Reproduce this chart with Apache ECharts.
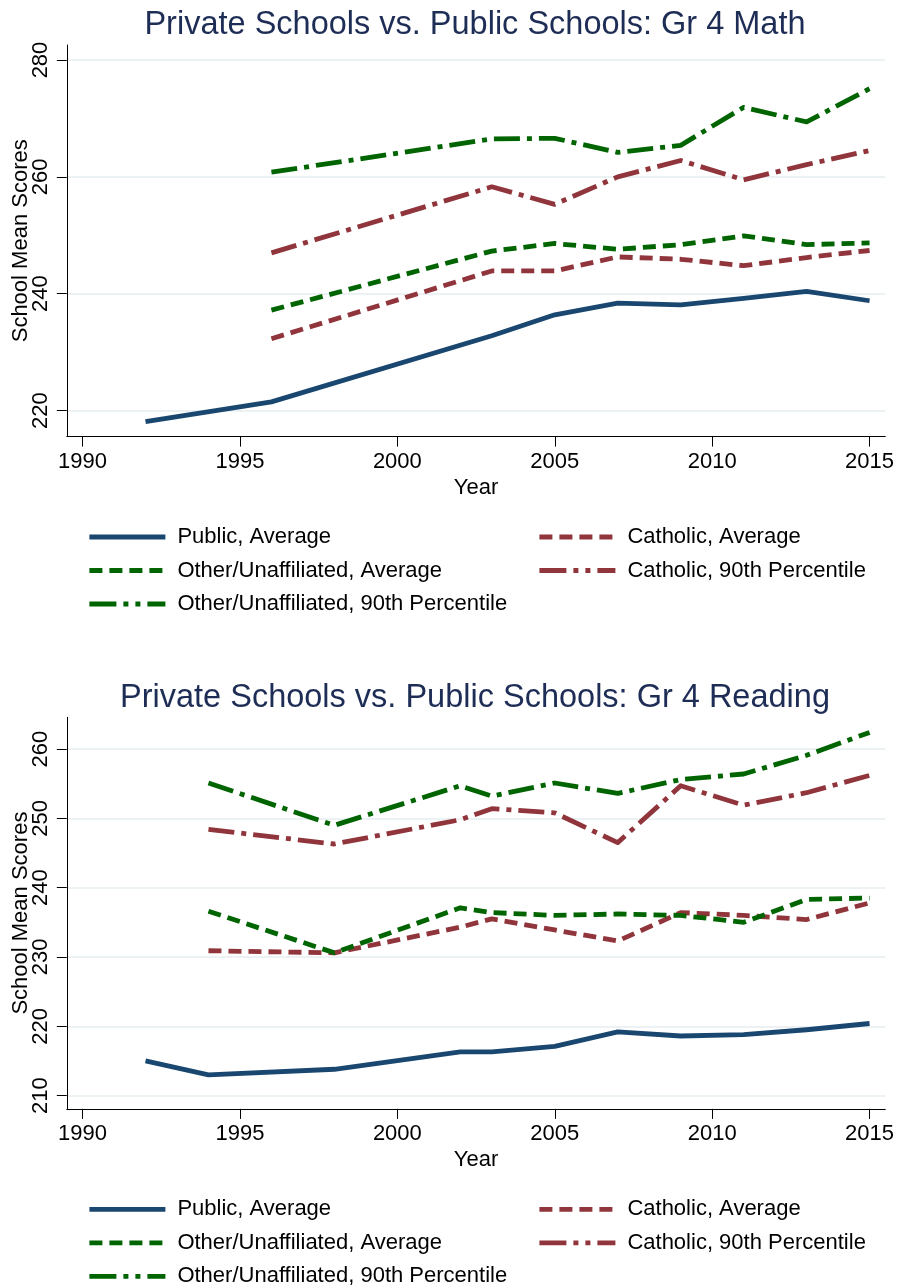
<!DOCTYPE html>
<html>
<head>
<meta charset="utf-8">
<script src="https://cdn.jsdelivr.net/npm/echarts@6/dist/echarts.min.js"></script>
<style>
html,body{margin:0;padding:0;background:#fff;}
#chart{width:899px;height:1287px;}
</style>
</head>
<body>
<div id="chart"></div>
<script>
// ---- Data ----
const seriesNames = ['Public, Average','Catholic, Average','Other/Unaffiliated, Average','Catholic, 90th Percentile','Other/Unaffiliated, 90th Percentile'];
// legend layout: [name, column, row]
const legendLayout = [
  ['Public, Average', 0, 0],
  ['Catholic, Average', 1, 0],
  ['Other/Unaffiliated, Average', 0, 1],
  ['Catholic, 90th Percentile', 1, 1],
  ['Other/Unaffiliated, 90th Percentile', 0, 2]
];

const mathTitle = 'Private Schools vs. Public Schools: Gr 4 Math';
const readTitle = 'Private Schools vs. Public Schools: Gr 4 Reading';

const mathYears = [1992, 1996, 2003, 2005, 2007, 2009, 2011, 2013, 2015];
const mathPublic     = [218.1, 221.5, 232.8, 236.4, 238.4, 238.1, 239.2, 240.4, 238.8];
const mathCatholic   = [null, 232.3, 243.9, 243.9, 246.3, 245.9, 244.8, 246.2, 247.4];
const mathOther      = [null, 237.2, 247.3, 248.6, 247.6, 248.4, 249.9, 248.4, 248.7];
const mathCatholic90 = [null, 247.0, 258.3, 255.3, 260.0, 262.8, 259.5, 262.1, 264.5];
const mathOther90    = [null, 260.8, 266.5, 266.6, 264.2, 265.4, 271.9, 269.4, 275.1];

const readYears = [1992, 1994, 1998, 2002, 2003, 2005, 2007, 2009, 2011, 2013, 2015];
const readPublic     = [215.0, 213.0, 213.8, 216.3, 216.3, 217.1, 219.2, 218.6, 218.8, 219.5, 220.4];
const readCatholic   = [null, 230.9, 230.6, 234.3, 235.5, 233.9, 232.3, 236.4, 236.0, 235.4, 237.8];
const readOther      = [null, 236.6, 230.6, 237.1, 236.4, 236.0, 236.2, 236.0, 235.0, 238.3, 238.5];
const readCatholic90 = [null, 248.4, 246.3, 249.8, 251.4, 250.8, 246.5, 254.7, 251.9, 253.7, 256.2];
const readOther90    = [null, 255.1, 249.0, 254.7, 253.2, 255.1, 253.6, 255.6, 256.4, 259.1, 262.4];

const xTicks = [1990, 1995, 2000, 2005, 2010, 2015];
const mathYTicks = [220, 240, 260, 280];
const readYTicks = [210, 220, 230, 240, 250, 260];

// ---- Styles ----
const FONT = "'Liberation Sans', Arial, Helvetica, sans-serif";
const NAVY = '#1a476f', MAROON = '#90353b', GREEN = '#006400';
const LW = 4.8;
const DASH = [13, 7];
const DASHDOT = [26, 7, 5, 7];
const LEGEND_DASHDOT = [27, 7, 5, 7, 5, 7];
const styles = {
  'Public, Average': {color: NAVY, type: 'solid'},
  'Catholic, Average': {color: MAROON, type: DASH},
  'Other/Unaffiliated, Average': {color: GREEN, type: DASH},
  'Catholic, 90th Percentile': {color: MAROON, type: DASHDOT},
  'Other/Unaffiliated, 90th Percentile': {color: GREEN, type: DASHDOT}
};

function pairs(xs, ys){ return xs.map((x,i)=> ys[i]==null ? null : [x, ys[i]]).filter(p=>p); }

function mkSeries(name, xs, ys, idx){
  const s = styles[name];
  return {
    name, type: 'line', xAxisIndex: idx, yAxisIndex: idx,
    data: pairs(xs, ys), symbol: 'none', showSymbol: false,
    color: s.color,
    lineStyle: {color: s.color, width: LW, type: s.type, cap: 'butt', join: 'round'},
    emphasis: {disabled: true}, animation: false
  };
}

const gridTops = [45, 717.3];
const gridH = 391.6;
const PANEL_OFFSET = 672.3;

function xAxis(idx){
  return {
    type: 'value', gridIndex: idx, min: 1989.5, max: 2015.5,
    axisLine: {show: true, onZero: false, lineStyle: {color: '#000', width: 1}},
    axisTick: {show: true, length: 10, customValues: xTicks, lineStyle: {color: '#000', width: 1}},
    axisLabel: {customValues: xTicks, formatter: v => String(v), fontSize: 22, fontFamily: FONT, color: '#000', margin: 14},
    splitLine: {show: false},
    name: 'Year', nameLocation: 'middle', nameGap: 40, nameMoveOverlap: false,
    nameTextStyle: {fontSize: 22, fontFamily: FONT, color: '#000'}
  };
}
function yAxis(idx, min, max, ticks){
  return {
    type: 'value', gridIndex: idx, min, max,
    axisLine: {show: true, onZero: false, lineStyle: {color: '#000', width: 1}},
    axisTick: {show: true, length: 10, customValues: ticks, lineStyle: {color: '#000', width: 1}},
    axisLabel: {customValues: ticks, formatter: v => String(v), rotate: 90, fontSize: 22, fontFamily: FONT, color: '#000', margin: 15},
    splitLine: {show: true, lineStyle: {color: '#e6eef1', width: 1.5}},
    name: 'School Mean Scores', nameLocation: 'middle', nameGap: 35, nameMoveOverlap: false,
    nameTextStyle: {fontSize: 22, fontFamily: FONT, color: '#000'}
  };
}

function legendItem(name, col, row, panel){
  const isDD = styles[name].type === DASHDOT;
  const ls = {width: LW};
  if (isDD) ls.type = LEGEND_DASHDOT;
  return {
    data: [name], orient: 'vertical',
    left: col === 0 ? 87 : 537,
    top: 526 + row * 33.5 + panel * PANEL_OFFSET,
    itemWidth: 76, itemHeight: 22, padding: 0,
    selectedMode: false,
    itemStyle: {opacity: 0},
    lineStyle: ls,
    textStyle: {fontSize: 22, fontFamily: FONT, color: '#000', padding: [0,0,0,7]}
  };
}

const legends = [];
[0, 1].forEach(p => legendLayout.forEach(([n, c, r]) => legends.push(legendItem(n, c, r, p))));

const option = {
  animation: false,
  backgroundColor: '#fff',
  title: [
    {text: mathTitle, left: 470, top: 4, textAlign: 'center', textStyle: {fontSize: 32.5, fontWeight: 'normal', fontFamily: FONT, color: '#1e2d55'}},
    {text: readTitle, left: 470, top: 4 + PANEL_OFFSET, textAlign: 'center', textStyle: {fontSize: 32.5, fontWeight: 'normal', fontFamily: FONT, color: '#1e2d55'}}
  ],
  grid: [
    {left: 66.8, top: gridTops[0], width: 818.5, height: gridH, containLabel: false, outerBoundsMode: 'none'},
    {left: 66.8, top: gridTops[1], width: 818.5, height: gridH, containLabel: false, outerBoundsMode: 'none'}
  ],
  xAxis: [xAxis(0), xAxis(1)],
  yAxis: [yAxis(0, 215.55, 282.57, mathYTicks), yAxis(1, 208.08, 264.58, readYTicks)],
  legend: legends,
  series: [
    mkSeries('Public, Average', mathYears, mathPublic, 0),
    mkSeries('Catholic, Average', mathYears, mathCatholic, 0),
    mkSeries('Other/Unaffiliated, Average', mathYears, mathOther, 0),
    mkSeries('Catholic, 90th Percentile', mathYears, mathCatholic90, 0),
    mkSeries('Other/Unaffiliated, 90th Percentile', mathYears, mathOther90, 0),
    mkSeries('Public, Average', readYears, readPublic, 1),
    mkSeries('Catholic, Average', readYears, readCatholic, 1),
    mkSeries('Other/Unaffiliated, Average', readYears, readOther, 1),
    mkSeries('Catholic, 90th Percentile', readYears, readCatholic90, 1),
    mkSeries('Other/Unaffiliated, 90th Percentile', readYears, readOther90, 1)
  ]
};

const chart = echarts.init(document.getElementById('chart'), null, {renderer: 'canvas'});
chart.setOption(option);
</script>
</body>
</html>
